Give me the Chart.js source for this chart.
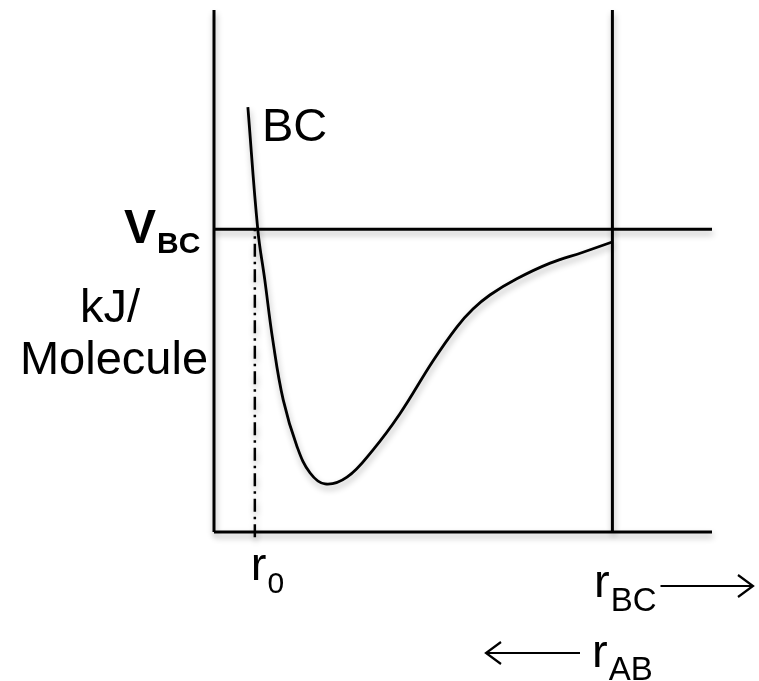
<!DOCTYPE html>
<html>
<head>
<meta charset="utf-8">
<script src="https://cdn.jsdelivr.net/npm/chart.js@4/dist/chart.umd.min.js"></script>
<style>
  body { margin: 0; background: #fff; }
  canvas { display: block; }
</style>
</head>
<body>
<canvas id="potChart" width="759" height="681"></canvas>
<script>
// BC potential energy curve (arbitrary units)
const rValues = [0.68, 0.88, 1.02, 1.18, 1.39, 1.67, 1.93, 2.23, 2.67, 3.19, 3.73, 4.40, 4.88, 5.20, 5.54, 6.08, 6.75, 7.41, 8.01];
const energyValues = [8.14, 5.79, 4.83, 3.68, 2.53, 1.63, 1.13, 0.92, 1.05, 1.57, 2.26, 3.28, 3.93, 4.27, 4.54, 4.85, 5.15, 5.36, 5.56];

const vBC = 5.8;      // dissociation level
const r0 = 0.82;      // equilibrium marker
const rEnd = 8;       // right boundary
const axisMax = 10;

const black = '#000';
const font = '"Liberation Sans", Arial, sans-serif';

function seg(x1, y1, x2, y2) {
    return [{ x: x1, y: y1 }, { x: x2, y: y2 }];
}

function lineSet(data, extra) {
    return Object.assign({
        data: data,
        borderColor: black,
        borderWidth: 3,
        pointRadius: 0,
        fill: false,
        clip: false
    }, extra || {});
}

// text with subscript
function subText(ctx, main, sub, x, y, size, subSize, bold, subDrop) {
    const w = bold ? 'bold ' : '';
    ctx.font = w + size + 'px ' + font;
    ctx.textAlign = 'left';
    ctx.textBaseline = 'alphabetic';
    ctx.fillText(main, x, y);
    const mw = ctx.measureText(main).width;
    ctx.font = w + subSize + 'px ' + font;
    ctx.fillText(sub, x + mw + 1, y + subDrop);
    return x + mw + 1 + ctx.measureText(sub).width;
}

function arrow(ctx, x1, x2, y, dir) {
    ctx.beginPath();
    ctx.moveTo(x1, y);
    ctx.lineTo(x2, y);
    const tip = dir > 0 ? x2 : x1;
    ctx.moveTo(tip - dir * 15, y - 11);
    ctx.lineTo(tip, y);
    ctx.lineTo(tip - dir * 15, y + 11);
    ctx.stroke();
}

const shadowPlugin = {
    id: 'shadow',
    beforeDatasetDraw(chart) {
        const ctx = chart.ctx;
        ctx.save();
        ctx.shadowColor = 'rgba(0,0,0,0.3)';
        ctx.shadowBlur = 6;
        ctx.shadowOffsetX = 1;
        ctx.shadowOffsetY = 4;
    },
    afterDatasetDraw(chart) {
        chart.ctx.restore();
    }
};

const labelPlugin = {
    id: 'labels',
    afterDraw(chart) {
        const ctx = chart.ctx;
        const xs = chart.scales.x;
        const ys = chart.scales.y;
        ctx.save();
        ctx.fillStyle = black;
        ctx.strokeStyle = black;
        ctx.lineWidth = 2.2;

        ctx.font = '47px ' + font;
        ctx.textAlign = 'left';
        ctx.fillText('BC', 262, 141);

        subText(ctx, 'V', 'BC', 124, ys.getPixelForValue(vBC) + 14, 48, 30, true, 10);

        ctx.font = '47px ' + font;
        ctx.textAlign = 'center';
        ctx.fillText('kJ/', 110, 322);
        ctx.fillText('Molecule', 114, 374);

        subText(ctx, 'r', '0', xs.getPixelForValue(r0) - 4, 580, 47, 30, false, 13);

        const e1 = subText(ctx, 'r', 'BC', 594, 597, 47, 33, false, 14);
        arrow(ctx, e1 + 4, 753, 586, 1);

        arrow(ctx, 486, 580, 653, -1);
        subText(ctx, 'r', 'AB', 592, 667, 47, 33, false, 13);
        ctx.restore();
    }
};

new Chart(document.getElementById('potChart').getContext('2d'), {
    type: 'line',
    data: {
        datasets: [
            lineSet(seg(0, 0, 0, axisMax)),
            lineSet(seg(0, 0, axisMax, 0)),
            lineSet(seg(rEnd, 0, rEnd, axisMax)),
            lineSet(seg(0, vBC, axisMax, vBC)),
            lineSet(seg(r0, -0.1, r0, vBC), { borderWidth: 2.5, borderDash: [13, 5, 2.5, 5] }),
            lineSet(rValues.map((r, i) => ({ x: r, y: energyValues[i] })), { tension: 0.4, borderWidth: 2.8 })
        ]
    },
    options: {
        responsive: false,
        animation: false,
        layout: { padding: { left: 214, right: 47, top: 10, bottom: 149 } },
        scales: {
            x: { type: 'linear', min: 0, max: axisMax, display: false },
            y: { type: 'linear', min: 0, max: axisMax, display: false }
        },
        plugins: {
            legend: { display: false },
            tooltip: { enabled: false }
        }
    },
    plugins: [shadowPlugin, labelPlugin]
});
</script>
</body>
</html>
